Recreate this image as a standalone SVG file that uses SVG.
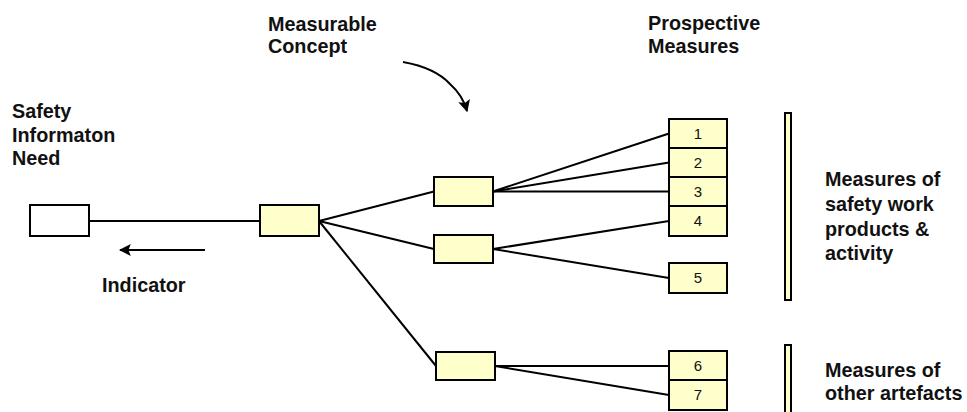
<svg xmlns="http://www.w3.org/2000/svg" width="967" height="412" viewBox="0 0 967 412">
  <style>
    .lbl { font-family: "Liberation Sans", Arial, Helvetica, sans-serif; font-weight: bold; font-size: 19.8px; fill: #111; }
    .num { font-family: "Liberation Sans", Arial, Helvetica, sans-serif; font-size: 15px; fill: #111; text-anchor: middle; }
    .box { fill: #FFFFCC; stroke: #000; stroke-width: 2; }
    .white { fill: #fff; stroke: #000; stroke-width: 2; }
    .conn line { stroke: #000; stroke-width: 2; }
  </style>
  <defs>
    <marker id="head" viewBox="0 0 10 10" refX="9" refY="5" markerWidth="6" markerHeight="6" orient="auto" markerUnits="strokeWidth">
      <path d="M0,0 L10,5 L0,10 L2,5 z" fill="#000"/>
    </marker>
  </defs>
  <rect width="967" height="412" fill="#fff"/>

  <!-- headings -->
  <text class="lbl" x="12" y="118">Safety</text>
  <text class="lbl" x="12" y="142">Informaton</text>
  <text class="lbl" x="12" y="165">Need</text>
  <text class="lbl" x="268" y="31">Measurable</text>
  <text class="lbl" x="268" y="53">Concept</text>
  <text class="lbl" x="648" y="30">Prospective</text>
  <text class="lbl" x="648" y="53">Measures</text>
  <text class="lbl" x="102" y="292">Indicator</text>
  <text class="lbl" x="825" y="186">Measures of</text>
  <text class="lbl" x="825" y="211">safety work</text>
  <text class="lbl" x="825" y="236">products &amp;</text>
  <text class="lbl" x="825" y="260">activity</text>
  <text class="lbl" x="825" y="377">Measures of</text>
  <text class="lbl" x="825" y="400">other artefacts</text>

  <!-- connectors -->
  <g id="connectors" class="conn">
    <line x1="89" y1="221" x2="260" y2="221"/>
    <line x1="319" y1="221" x2="434" y2="191.5"/>
    <line x1="319" y1="221" x2="434" y2="249"/>
    <line x1="319" y1="221" x2="436" y2="366"/>
    <line x1="493" y1="191.5" x2="669" y2="133.5"/>
    <line x1="493" y1="191.5" x2="669" y2="162.5"/>
    <line x1="493" y1="191.5" x2="669" y2="191.5"/>
    <line x1="493" y1="249" x2="669" y2="221"/>
    <line x1="493" y1="249" x2="669" y2="278"/>
    <line x1="495" y1="366" x2="669" y2="366"/>
    <line x1="495" y1="366" x2="669" y2="395"/>
    <line x1="205" y1="250" x2="120" y2="250" marker-end="url(#head)"/>
    <path d="M403,62 C425,66 440,73 450,84 C459,92 464,100 467,111" fill="none" stroke="#000" stroke-width="2" marker-end="url(#head)"/>
  </g>

  <!-- nodes -->
  <g id="need"><rect class="white" x="30" y="205" width="59" height="31"/></g>
  <g id="indicator"><rect class="box" x="260" y="205" width="59" height="31"/></g>
  <g id="concept-a"><rect class="box" x="434" y="177" width="59" height="29"/></g>
  <g id="concept-b"><rect class="box" x="434" y="235" width="59" height="28"/></g>
  <g id="concept-c"><rect class="box" x="436" y="352" width="59" height="28"/></g>

  <g id="m1"><rect class="box" x="669" y="119" width="58" height="29"/><text class="num" x="698" y="139">1</text></g>
  <g id="m2"><rect class="box" x="669" y="148" width="58" height="29"/><text class="num" x="698" y="168">2</text></g>
  <g id="m3"><rect class="box" x="669" y="177" width="58" height="29"/><text class="num" x="698" y="197">3</text></g>
  <g id="m4"><rect class="box" x="669" y="206" width="58" height="30"/><text class="num" x="698" y="226">4</text></g>
  <g id="m5"><rect class="box" x="669" y="263" width="58" height="30"/><text class="num" x="698" y="283">5</text></g>
  <g id="m6"><rect class="box" x="669" y="351" width="58" height="29"/><text class="num" x="698" y="371">6</text></g>
  <g id="m7"><rect class="box" x="669" y="380" width="58" height="30"/><text class="num" x="698" y="400">7</text></g>

  <g id="bar-work"><rect class="box" x="785" y="113" width="6" height="187"/></g>
  <g id="bar-other"><rect class="box" x="785" y="345" width="6" height="80"/></g>
</svg>
